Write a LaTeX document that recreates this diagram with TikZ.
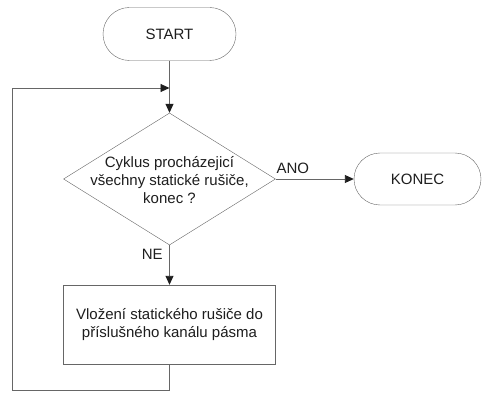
\documentclass[tikz,border=0pt]{standalone}
\usepackage{fontspec}
\setmainfont{Liberation Sans}
\usepackage{tikz}
\usetikzlibrary{arrows.meta, positioning, shapes.geometric, shapes.misc}
\definecolor{linegray}{HTML}{666666}
\definecolor{textdark}{HTML}{1E1E1E}

\begin{document}
\begin{tikzpicture}[
    x=1pt, y=-1pt,
    every node/.style={font=\fontsize{15}{18}\selectfont, text=textdark},
    terminal/.style={
        rounded rectangle,
        draw=linegray,
        fill=white,
        inner sep=0pt,
        minimum width=133pt,
        minimum height=53pt
    },
    decision/.style={
        diamond,
        draw=linegray,
        fill=white,
        inner sep=0pt,
        minimum width=212pt,
        minimum height=132pt
    },
    process/.style={
        rectangle,
        draw=linegray,
        fill=white,
        inner sep=0pt,
        minimum width=212pt,
        minimum height=79pt,
        align=center
    },
    line/.style={draw=linegray, line width=0.9pt},
    arrow/.style={line, -{Triangle[length=9pt, width=8pt, color=textdark]}}
]
\useasboundingbox (0,0) rectangle (482,393);

\node[terminal] (start) at (169.5,34) {START};
\coordinate (join) at (169.5,88);

\node[decision] (dec) at (169.5,179) {};
\node[align=center, inner sep=0pt] (dectext) at (169.5,180)
{Cyklus procházejicí\\všechny statické rušiče,\\konec ?};

\node[terminal, minimum width=127pt, minimum height=52pt] (konec) at (417.5,179) {KONEC};

\node[process] (proc) at (169.5,324.5)
{Vložení statického rušiče do\\příslušného kanálu pásma};

\coordinate (loopleft) at (12,390);

\draw[line] (start) -- (join);
\draw[arrow] (join) -- (dec.north);
\draw[arrow] (dec.east) -- node[above=2pt, pos=0.22] (ano) {ANO} (konec.west);
\draw[arrow] (dec.south) -- node[left=3pt, pos=0.22] (ne) {NE} (proc.north);
\draw[arrow] (proc.south) |- (loopleft) |- (join);

\end{tikzpicture}
\end{document}
